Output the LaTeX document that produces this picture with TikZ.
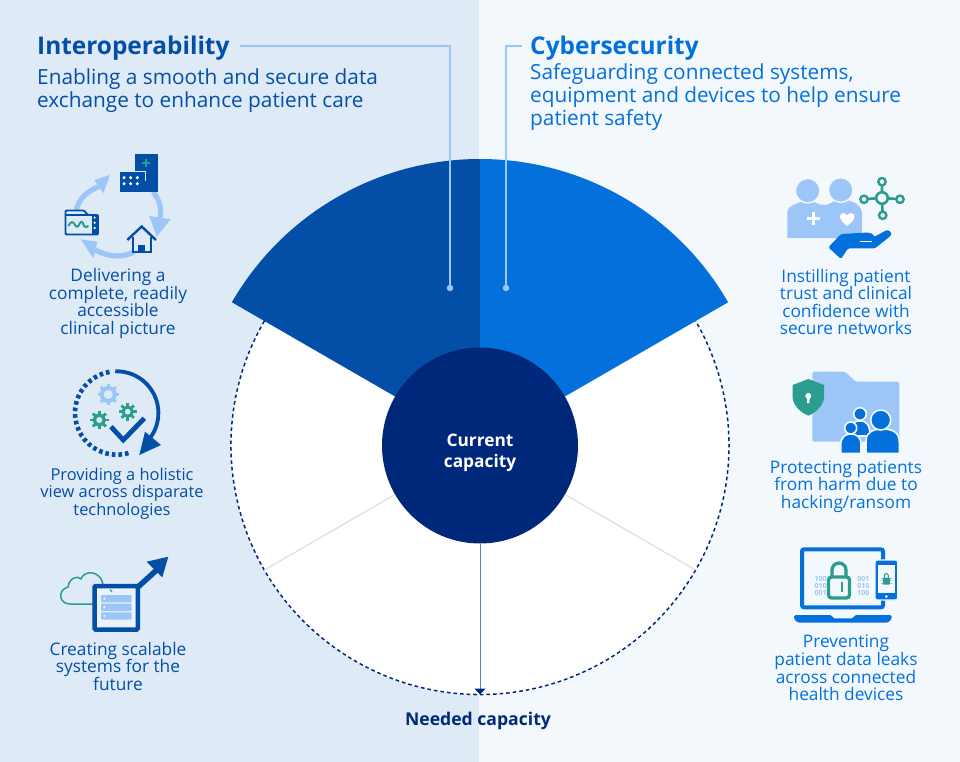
\documentclass[tikz,border=0pt]{standalone}
\usepackage{fontspec}
\setmainfont{Open Sans}
\usepackage{xcolor}
\usetikzlibrary{arrows.meta,positioning}
\definecolor{capPaneL}{HTML}{DFEAF7}
\definecolor{capPaneR}{HTML}{F3F8FC}
\definecolor{capDeep}{HTML}{034EA7}
\definecolor{capBlue}{HTML}{0470DC}
\definecolor{capNavy}{HTML}{00287A}
\definecolor{capSky}{HTML}{9CC6F8}
\definecolor{capTeal}{HTML}{2A9D8F}
\definecolor{capSpoke}{HTML}{D5DAEC}
\newcommand{\capgear}[4]{% centre, colour, ring radius, ring width
  \draw[#2, line width=#4pt] (#1) circle (#3pt);
  \foreach \a in {0,45,...,315}
    \draw[#2, line width=2.8pt] (#1) ++(\a:#3pt) -- ++(\a:4.2pt);
}
\begin{document}
\begin{tikzpicture}[
  x=1pt, y=-1pt,
  every node/.style={align=center, inner sep=0pt},
  headL/.style={anchor=west, text=capDeep, font=\fontsize{24.4}{26}\selectfont\bfseries, text height=22pt, text depth=5pt},
  headR/.style={headL, text=capBlue},
  subL/.style={anchor=west, align=left, text=capDeep, font=\fontsize{20.8}{23}\selectfont},
  subR/.style={subL, text=capBlue},
  itemL/.style={text=capDeep, font=\fontsize{17.3}{17.6}\selectfont},
  itemR/.style={itemL, text=capBlue},
  bits/.style={text=capSky, font=\fontsize{7}{7}\selectfont\bfseries},
  leader/.style={capSky, line width=1.4pt},
  leaddot/.style={circle, fill=capSky, minimum size=6.5pt},
  ring/.style={draw=capNavy, line width=1.5pt, dash pattern=on 3.6pt off 3pt},
  spoke/.style={capSpoke, line width=1pt},
  need/.style={-{Triangle[length=6pt,width=11pt,color=capNavy,fill=capNavy]}, line width=1pt, capDeep!70},
  loopline/.style={capSky, line width=5.2pt},
]
  \useasboundingbox (0,0) rectangle (960,762);
  \fill[capPaneL] (0,0) rectangle (479,762);
  \fill[capPaneR] (479,0) rectangle (960,762);

  % wheel
  \coordinate (mid) at (480,445.5);
  \path (mid) ++(210:249pt) coordinate (spokeL);
  \path (mid) ++(330:249pt) coordinate (spokeR);
  \coordinate (ringfoot) at (480,694.5);
  \fill[white] (mid) circle (249pt);
  \draw[ring] (mid) ++(150:249pt) arc[start angle=150, end angle=390, radius=249pt];
  \fill[capDeep] (mid) -- ++(150:286.5pt) arc[start angle=150, end angle=90, radius=286.5pt] -- cycle;
  \fill[capBlue] (mid) -- ++(30:286.5pt) arc[start angle=30, end angle=90, radius=286.5pt] -- cycle;
  \node[circle, fill=capNavy, minimum size=196pt] (hub) at (mid) {};
  \node[text=white, font=\fontsize{17.3}{21}\selectfont\bfseries] (hubtext) at (480,452.5) {Current\\capacity};
  \draw[spoke] (hub.210) -- (spokeL);
  \draw[spoke] (hub.330) -- (spokeR);
  \draw[need] (hub.south) -- (ringfoot);
  \node[text=capNavy, font=\fontsize{17.6}{18}\selectfont\bfseries] (needed) at (478,721) {Needed capacity};

  % headings
  \node[headL] (interop) at (37,46) {Interoperability};
  \node[headR] (cyber) at (530,46) {Cybersecurity};
  \node[subL] (intersub) at (37,91) {Enabling a smooth and secure data\\exchange to enhance patient care};
  \node[subR] (cybersub) at (530,97) {Safeguarding connected systems,\\equipment and devices to help ensure\\patient safety};
  \node[leaddot] (dotL) at (450,288) {};
  \node[leaddot] (dotR) at (506,288) {};
  \draw[leader] ([xshift=10pt]interop.east) -| (dotL);
  \draw[leader] (dotR) |- ([xshift=-8pt]cyber.west);

  % item labels
  \node[itemL] (itemA) at (118,303.5) {Delivering a\\complete, readily\\accessible\\clinical picture};
  \node[itemL, font=\fontsize{16.4}{17.6}\selectfont] (itemB) at (122,493.5) {Providing a holistic\\view across disparate\\technologies};
  \node[itemL] (itemC) at (118,666.5) {Creating scalable\\systems for the\\future};
  \node[itemR] (itemD) at (846,302) {Instilling patient\\trust and clinical\\confidence with\\secure networks};
  \node[itemR] (itemE) at (846,486.5) {Protecting patients\\from harm due to\\hacking/ransom};
  \node[itemR] (itemF) at (846,668) {Preventing\\patient data leaks\\across connected\\health devices};

  % icon: care loop
  \draw[loopline] (76.5,210) .. controls (78,199) and (88,191) .. (99,186.5);
  \draw[loopline] (153,192) .. controls (159,199) and (162,208) .. (160,218);
  \draw[loopline] (134,252) .. controls (122,258) and (108,257) .. (95.3,250);
  \fill[capSky] (94.3,180) -- (103.3,193.3) -- (110,175) -- cycle;
  \fill[capSky] (149.3,216) -- (170.7,219.3) -- (156.7,236.7) -- cycle;
  \fill[capSky] (97.3,241.7) -- (93.3,258.3) -- (80.7,239.3) -- cycle;
  \fill[capDeep] (135,154) rectangle (157.5,191.7);
  \fill[capDeep] (120,172) rectangle (146,191.7);
  \draw[capPaneL, line width=1pt] (120,171.5) -- (145.5,171.5) -- (145.5,181);
  \foreach \px in {124,130.7,137.3} \foreach \py in {177.7,183.7}
    \fill[white] (\px,\py) circle (1.7pt);
  \draw[capTeal, line width=2pt] (142,163) -- (150,163) (146,159) -- (146,167);
  \fill[capPaneL] (65.5,210.5) -- (84,210.5) -- (88,215) -- (98,215) -- (98,234.5) -- (65.5,234.5) -- cycle;
  \fill[capDeep] (91.5,215) rectangle (98,234.5);
  \draw[capDeep, line width=1.8pt, rounded corners=1pt] (65.5,210.5) -- (84,210.5) -- (88,215) -- (98,215) -- (98,234.5) -- (65.5,234.5) -- cycle;
  \draw[capDeep, line width=1.2pt] (65.5,215) -- (88,215);
  \foreach \py in {217.6,222.7,228} \fill[white] (94.6,\py) circle (1.2pt);
  \draw[capTeal, line width=2pt] (68.3,226) .. controls (71,221) and (73,221) .. (75,225) .. controls (77,228) and (78,227) .. (80,223) .. controls (82,220) and (83,223) .. (84,226) .. controls (85,228) and (87,227) .. (88.5,226);
  \fill[capPaneL] (132.7,238) rectangle (150.7,252);
  \draw[capDeep, line width=2.4pt] (127.3,240) -- (141.7,226.5) -- (156,240);
  \draw[capDeep, line width=2.4pt] (132.7,237) -- (132.7,251.7) -- (150.7,251.7) -- (150.7,237);
  \fill[capDeep] (138.3,245) rectangle (145,251.7);

  % icon: holistic view
  \draw[capDeep, line width=3.8pt] (116.7,413) ++(92:41.7pt) arc[start angle=92, end angle=-40, radius=41.7pt];
  \draw[capDeep, line width=4.6pt, dash pattern=on 3.6pt off 3pt] (116.7,413) ++(100:41.7pt) arc[start angle=100, end angle=288, radius=41.7pt];
  \fill[capDeep] (145,431.7) -- (161,445) -- (139.3,455) -- cycle;
  \capgear{108.3,394.5}{capSky}{6.5}{4}
  \capgear{99.3,420}{capTeal}{5}{3.4}
  \capgear{127.7,411.7}{capTeal}{4.6}{3}
  \draw[capDeep, line width=4.8pt] (111,426.7) -- (123.3,440) -- (144.3,418.3);

  % icon: scalable systems
  \draw[capTeal, line width=1.5pt] (93.3,604) -- (70,604) .. controls (59,604) and (57,590) .. (68,587) .. controls (69,578) and (78,575) .. (81,579) .. controls (84,570) and (100,570) .. (103,584);
  \draw[capDeep, line width=5.5pt] (138.3,586.7) -- (156.7,570);
  \fill[capDeep] (146.7,561.7) -- (168.3,556.7) -- (162.3,577.3) -- cycle;
  \draw[capDeep, fill=capPaneL!60!white, line width=4.5pt, rounded corners=1pt] (94.5,586) rectangle (137.8,629.5);
  \draw[capTeal, line width=1.2pt] (110,589.5) -- (112,592);
  \foreach \py in {595,603.7,612.3} {
    \fill[capSky, rounded corners=1pt] (101,\py) rectangle ++(30.7,7.3);
    \fill[white] (104.3,\py+3.6) circle (1.1pt);
  }

  % icon: patient trust
  \fill[capSky] (787.3,238) -- (787.3,212) .. controls (788,205) and (797,204) .. (803,201) -- (812,201) .. controls (816,203) and (820,205) .. (824,205) .. controls (828,205) and (832,203) .. (836,200) -- (846,200) .. controls (855,202) and (861,205) .. (862,213) -- (862,238) -- cycle;
  \draw[capPaneR, fill=capSky, line width=1.4pt] (807.7,190.7) circle (12.3pt);
  \draw[capPaneR, fill=capSky, line width=1.4pt] (840.7,190) circle (12.3pt);
  \draw[white, line width=2.6pt] (807,218.5) -- (820,218.5) (813.5,212) -- (813.5,225);
  \fill[white] (847.2,226) .. controls (842,222) and (840,219) .. (840,216.5) .. controls (840,212.5) and (845.5,212) .. (847.2,215.5) .. controls (849,212) and (854.5,212.5) .. (854.5,216.5) .. controls (854.5,219) and (852.5,222) .. (847.2,226) -- cycle;
  \fill[capBlue, rounded corners=1.5pt] (828.3,247.3) -- (841,234) -- (868,232.5) -- (873,234) -- (874,237) -- (885,231) .. controls (889,229.5) and (892,233) .. (890.5,236) -- (875,248.3) -- (848,248.3) -- (841,259) -- cycle;
  \draw[white, line width=.9pt] (859.5,241.7) -- (871.7,241.7);
  \draw[capTeal, line width=2.6pt] (882,198) circle (5.8pt);
  \foreach \px/\py in {882/181.7, 864/199.3, 900/199.3, 882.7/215.3}
    \draw[capTeal, line width=2.4pt] (\px,\py) circle (3.7pt);
  \draw[capTeal, line width=2.6pt] (882,192.5) -- (882,185.3) (876.5,198.3) -- (867.6,199) (887.5,198.3) -- (896.4,199) (882.2,203.5) -- (882.5,211.7);

  % icon: protected folder
  \fill[capSky, rounded corners=1.5pt] (812.3,371.7) -- (845,371.7) -- (855.7,381.7) -- (899.3,381.7) -- (899.3,441.7) -- (812.3,441.7) -- cycle;
  \fill[capTeal] (792.7,385) -- (808.3,379) -- (824,385) -- (824,398.3) .. controls (823,406) and (815,413) .. (808.3,415.7) .. controls (801.5,413) and (793.5,406) .. (792.7,398.3) -- cycle;
  \fill[white] (808.3,396) circle (3pt);
  \fill[white] (807,396) -- (809.6,396) -- (809.4,403) -- (807.2,403) -- cycle;
  \draw[capPaneR, fill=capBlue, line width=1.6pt] (850,436) .. controls (850,424) and (853,421) .. (860,421) .. controls (867,421) and (870,425) .. (870,436) -- cycle;
  \draw[capPaneR, fill=capBlue, line width=1.6pt] (860,414) circle (6.3pt);
  \draw[capPaneR, fill=capBlue, line width=1.6pt] (840.7,453.3) -- (840.7,445) .. controls (841,437) and (845,434) .. (850.7,434) .. controls (857,434) and (861,437) .. (861,445) -- (861,453.3) -- cycle;
  \draw[capPaneR, fill=capBlue, line width=1.6pt] (850.7,428) circle (6pt);
  \draw[capPaneR, fill=capBlue, line width=1.6pt] (866,453.3) -- (866,441) .. controls (866,432) and (873,429) .. (882.7,429) .. controls (892,429) and (899.3,432) .. (899.3,442) -- (899.3,453.3) -- cycle;
  \draw[capPaneR, fill=capBlue, line width=1.6pt] (880.7,420) circle (10pt);

  % icon: laptop and phone
  \draw[capBlue, line width=4pt, rounded corners=2pt] (802,549.3) rectangle (883,607.3);
  \fill[capBlue, rounded corners=1.5pt] (794,615) -- (831.7,615) -- (833,618.3) -- (853.3,618.3) -- (854.7,615) -- (891.7,615) -- (891.7,619) -- (888,622.7) -- (798,622.7) -- (794,619) -- cycle;
  \draw[capTeal, line width=3.3pt] (832,577) -- (832,570) arc[start angle=180, end angle=0, radius=7pt] -- (846,577);
  \draw[capTeal, line width=3.3pt, rounded corners=3pt] (828.5,577) rectangle (849.5,598);
  \draw[capTeal, line width=2.4pt] (841.7,582) -- (841.7,592);
  \foreach \py/\bitl/\bitr in {579/100/001, 586/010/010, 593/001/100} {
    \node[bits] (binL\bitl) at (820.5,\py) {\bitl};
    \node[bits] (binR\bitr) at (863.3,\py) {\bitr};
  }
  \draw[capPaneR, fill=capBlue, line width=1.4pt, rounded corners=2pt] (875,560) rectangle (897.7,600);
  \fill[capPaneR] (878,565) rectangle (894.7,592.5);
  \fill[capPaneR] (886.3,596.5) circle (1.5pt);
  \draw[capSky, line width=.4pt] (880.5,578) -- (892,578) (880.5,580.5) -- (892,580.5) (880.5,583) -- (892,583);
  \fill[capTeal, rounded corners=.5pt] (882.8,577.5) rectangle (889.8,584.5);
  \draw[capTeal, line width=1pt] (884.3,577.5) -- (884.3,575.5) arc[start angle=180, end angle=0, radius=2pt] -- (888.3,577.5);
\end{tikzpicture}
\end{document}
